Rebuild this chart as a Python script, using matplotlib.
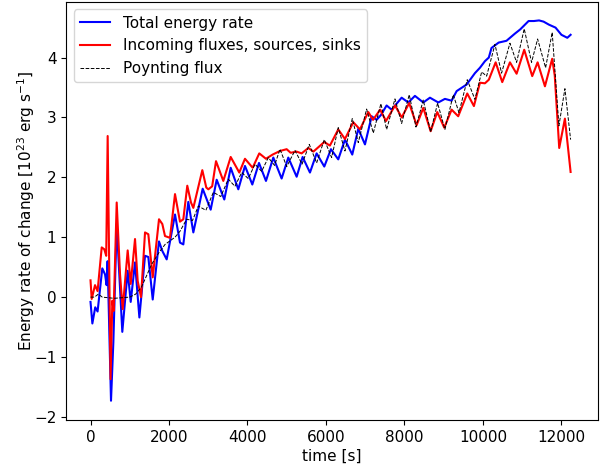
import matplotlib

matplotlib.use("Agg")

import matplotlib.pyplot as plt

# Total energy rate (blue)
total_time = [0, 47, 120, 180, 300, 370, 410, 435, 522, 582, 667, 740, 810, 947, 1024,
              1134, 1245, 1389, 1473, 1585, 1745, 1830, 1941, 2153, 2280, 2365, 2492,
              2620, 2858, 3062, 3215, 3409, 3572, 3766, 3936, 4123, 4293, 4471, 4658,
              4870, 5040, 5253, 5405, 5592, 5762, 5957, 6127, 6313, 6484, 6670, 6823,
              6994, 7164, 7290, 7400, 7545, 7673, 7928, 8098, 8267, 8480, 8650, 8862,
              9031, 9202, 9330, 9585, 9796, 9924, 10051, 10150, 10218, 10400, 10600,
              10815, 10950, 11163, 11300, 11430, 11545, 11680, 11850, 12000, 12150, 12234]
total_rate = [-0.08, -0.44, -0.17, -0.24, 0.48, 0.38, 0.20, 0.60, -1.73, -0.75, 1.22, 0.30,
              -0.58, 0.44, -0.08, 0.58, -0.34, 0.69, 0.67, -0.04, 0.93, 0.77, 0.63, 1.38,
              0.91, 0.88, 1.59, 1.08, 1.81, 1.46, 1.96, 1.63, 2.16, 1.80, 2.19, 1.88, 2.24,
              1.94, 2.33, 1.98, 2.33, 2.01, 2.34, 2.08, 2.40, 2.18, 2.47, 2.30, 2.63, 2.38,
              2.81, 2.55, 3.02, 2.96, 3.04, 3.20, 3.13, 3.33, 3.25, 3.36, 3.25, 3.33, 3.25,
              3.31, 3.28, 3.44, 3.55, 3.74, 3.83, 3.94, 4.00, 4.16, 4.25, 4.28, 4.40, 4.47,
              4.61, 4.61, 4.62, 4.60, 4.55, 4.50, 4.38, 4.33, 4.38]

# Incoming fluxes, sources, sinks (red)
incoming_time = [0, 30, 115, 180, 285, 350, 400, 437, 510, 556, 590, 667, 752, 820, 947,
                 1024, 1134, 1202, 1287, 1389, 1473, 1585, 1745, 1830, 1898, 2025, 2153,
                 2280, 2365, 2466, 2560, 2620, 2849, 2950, 3002, 3100, 3198, 3384, 3572,
                 3791, 3936, 4132, 4300, 4471, 4640, 4828, 4998, 5100, 5250, 5380, 5550,
                 5680, 5957, 6100, 6313, 6484, 6696, 6866, 7078, 7200, 7380, 7530, 7760,
                 7930, 8120, 8310, 8480, 8667, 8836, 9014, 9202, 9370, 9600, 9770, 9924,
                 10051, 10150, 10324, 10492, 10688, 10858, 11052, 11256, 11393, 11580,
                 11765, 11830, 11944, 12089, 12234]
incoming_rate = [0.28, -0.03, 0.20, 0.10, 0.83, 0.80, 0.69, 2.69, -1.37, -0.06, -0.23, 1.58,
                 0.38, -0.20, 0.78, 0.22, 0.97, 0.27, 0.00, 1.08, 1.05, 0.33, 1.30, 1.22,
                 1.02, 0.99, 1.72, 1.26, 1.30, 1.86, 1.58, 1.49, 2.12, 1.83, 1.80, 1.85,
                 2.27, 1.94, 2.34, 2.08, 2.31, 2.16, 2.40, 2.31, 2.38, 2.44, 2.47, 2.41,
                 2.43, 2.40, 2.49, 2.43, 2.59, 2.53, 2.80, 2.64, 2.92, 2.80, 3.09, 2.96,
                 3.13, 2.94, 3.20, 3.00, 3.24, 2.87, 3.16, 2.77, 3.09, 2.83, 3.13, 3.02,
                 3.40, 3.19, 3.58, 3.57, 3.63, 3.92, 3.59, 3.92, 3.73, 4.13, 3.69, 3.92,
                 3.52, 3.98, 3.70, 2.49, 2.98, 2.09]

# Poynting flux (black dashed)
poynting_time = [0, 100, 200, 300, 600, 1000, 1150, 1300, 1560, 1750, 1900, 2153, 2280,
                 2450, 2600, 2747, 2940, 3130, 3320, 3511, 3680, 3852, 4020, 4191, 4360,
                 4530, 4690, 4828, 5000, 5210, 5390, 5575, 5762, 5957, 6144, 6313, 6484,
                 6670, 6823, 7036, 7206, 7400, 7546, 7758, 7928, 8122, 8293, 8479, 8667,
                 8845, 9031, 9244, 9389, 9600, 9796, 9967, 10094, 10306, 10475, 10688,
                 10858, 11052, 11239, 11393, 11597, 11765, 11936, 12089, 12234]
poynting_rate = [0.00, 0.00, 0.05, 0.00, -0.02, 0.00, 0.05, 0.17, 0.55, 0.75, 0.88, 1.00,
                 1.10, 1.30, 1.28, 1.52, 1.45, 1.75, 1.68, 1.97, 1.85, 2.08, 1.98, 2.22,
                 2.10, 2.33, 2.20, 2.47, 2.18, 2.45, 2.22, 2.55, 2.24, 2.63, 2.33, 2.83,
                 2.44, 2.98, 2.58, 3.14, 2.74, 3.23, 2.80, 3.31, 2.90, 3.38, 2.84, 3.29,
                 2.76, 3.24, 2.80, 3.38, 3.08, 3.63, 3.30, 3.76, 3.69, 4.22, 3.74, 4.24,
                 3.92, 4.48, 3.92, 4.31, 3.83, 4.42, 2.86, 3.48, 2.63]

plt.rcParams["font.size"] = 11

figure, axis = plt.subplots(figsize=(6.01, 4.65), dpi=100)
axis.plot(total_time, total_rate, color="blue", linewidth=1.5, label="Total energy rate")
axis.plot(incoming_time, incoming_rate, color="red", linewidth=1.5,
          label="Incoming fluxes, sources, sinks")
axis.plot(poynting_time, poynting_rate, color="black", linestyle="--", linewidth=0.7,
          label="Poynting flux")
axis.set_xlim(-622, 12932)
axis.set_ylim(-2.05, 4.93)
axis.set_xlabel("time [s]", labelpad=3)
axis.set_ylabel(r"Energy rate of change [$10^{23}$ erg s$^{-1}$]", labelpad=-2)
axis.legend(loc="upper left")
figure.subplots_adjust(left=0.11, right=0.995, top=0.996, bottom=0.097)
figure.savefig("out.png", dpi=100)
